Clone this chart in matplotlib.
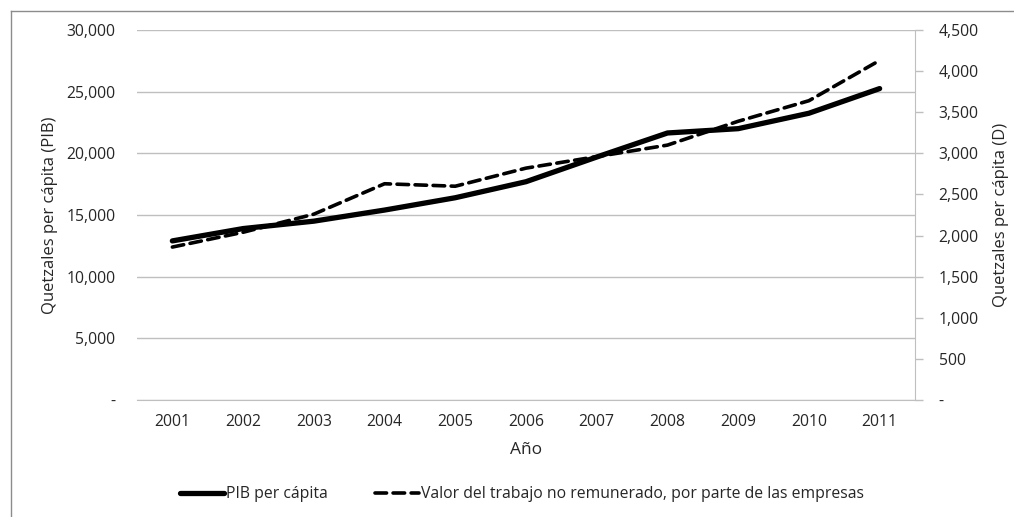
import matplotlib
matplotlib.use("Agg")
import matplotlib.pyplot as plt
from matplotlib.lines import Line2D
from matplotlib.ticker import FuncFormatter

plt.rcParams["font.family"] = ["Open Sans", "DejaVu Sans"]

years = ["2001", "2002", "2003", "2004", "2005", "2006", "2007", "2008", "2009", "2010", "2011"]
pib = [12900, 13900, 14500, 15400, 16400, 17700, 19700, 21650, 22000, 23250, 25250]
trabajo = [1860, 2040, 2260, 2630, 2600, 2820, 2960, 3100, 3390, 3640, 4130]

GRID = "#bfbfbf"
TXT = "#262626"
FS = 11.3


def fmt(v, _):
    return "-" if v == 0 else f"{v:,.0f}"


fig = plt.figure(figsize=(10.14, 5.17), dpi=100)
ax = fig.add_axes([137 / 1014, 1 - 400 / 517, (915 - 137) / 1014, 370 / 517])
ax2 = ax.twinx()

x = range(len(years))
l1, = ax.plot(x, pib, color="black", lw=3.8, solid_capstyle="round", solid_joinstyle="round")
l2, = ax2.plot(x, trabajo, color="black", lw=2.6, ls=(0, (3.2, 1.8)), dash_capstyle="round")

ax.set_xlim(-0.5, len(years) - 0.5)
ax.set_xticks(list(x))
ax.set_xticklabels(years)
ax.set_ylim(0, 30000)
ax.set_yticks(range(0, 30001, 5000))
ax.yaxis.set_major_formatter(FuncFormatter(fmt))
ax2.set_ylim(0, 4500)
ax2.set_yticks(range(0, 4501, 500))
ax2.yaxis.set_major_formatter(FuncFormatter(fmt))

ax.grid(axis="y", color=GRID, lw=1)
ax.set_axisbelow(True)
for a in (ax, ax2):
    for s in ("top", "left"):
        a.spines[s].set_visible(False)
    a.spines["bottom"].set_color(GRID)
    a.spines["right"].set_color(GRID)
ax.spines["right"].set_visible(False)
ax2.spines["bottom"].set_visible(False)

ax.tick_params(axis="y", length=0, pad=15.5, labelsize=FS, colors=TXT)
ax.tick_params(axis="x", length=0, pad=10, labelsize=FS, colors=TXT)
ax2.tick_params(axis="y", length=6, width=1, color=GRID, pad=11, labelsize=FS, labelcolor=TXT)

ax.set_xlabel("Año", fontsize=12.5, color=TXT, labelpad=9)
ax.set_ylabel("Quetzales per cápita (PIB)", fontsize=12, color=TXT, labelpad=6)
ax2.set_ylabel("Quetzales per cápita (D)", fontsize=12, color=TXT, labelpad=10)

fig.legend([l1, l2], ["PIB per cápita", "Valor del trabajo no remunerado, por parte de las empresas"],
           loc="center", bbox_to_anchor=(0.515, 1 - 494 / 517), ncol=2, frameon=False,
           fontsize=FS, handlelength=2.8, handletextpad=0.15, columnspacing=3.0, labelcolor=TXT)

# chart area border (only top and left edges fall inside the image)
fig.add_artist(Line2D([11 / 1014, 11 / 1014], [0, 1 - 11 / 517], color="#8c8c8c", lw=1))
fig.add_artist(Line2D([11 / 1014, 1], [1 - 11 / 517, 1 - 11 / 517], color="#8c8c8c", lw=1))

fig.savefig("out.png", dpi=100)
